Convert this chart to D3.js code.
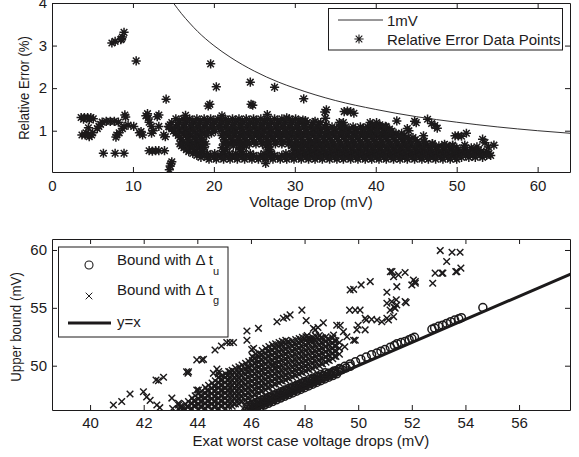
<!DOCTYPE html>
<html><head><meta charset="utf-8">
<script src="https://cdn.jsdelivr.net/npm/d3@7"></script>
<style>
body{margin:0;background:#fff}
text{font-family:"Liberation Sans",Arial,Helvetica,sans-serif;fill:#1c1a1b}
</style>
</head><body>
<svg id="c" width="579" height="457"></svg>
<script>
// ---------------- DATA ----------------
// Top panel: relative error (%) vs voltage drop (mV)
const xTicksTop = [0, 10, 20, 30, 40, 50, 60];
const yTicksTop = [1, 2, 3, 4];
const curve1mV = [[15,4],[16,3.75],[17,3.53],[18,3.33],[20,3.0],[22,2.73],[25,2.4],[28,2.14],[30,2.0],[35,1.71],[40,1.5],[45,1.33],[50,1.2],[55,1.09],[60,1.0],[64,0.94]];
const relErrScatter = [
 [7.4,3.06],[7.8,3.1],[8.5,3.14],[8.7,3.2],[8.9,3.31],[8.6,3.16],[10.4,2.64],[14.1,1.74],[19.6,2.57],[20.3,2.03],
 [24.5,2.14],[27.5,2.02],[31.1,1.75],[19.3,1.58],[19.5,1.62],[24.6,1.62],[24.8,1.6],[33.9,1.49],[33.7,1.44],[33.8,1.29],
 [36.1,1.45],[36.5,1.46],[36.9,1.45],[37.3,1.41],[42.6,1.23],[45.0,1.19],[44.8,1.22],[46.4,1.27],[46.9,1.17],[47.3,1.12],
 [47.6,1.06],[44.1,1.0],[43.9,1.05],[45.9,0.88],[43.7,0.82],[49.8,0.88],[50.2,0.88],[50.6,0.87],[51.2,0.94],[53.2,0.8],
 [53.5,0.72],[54.6,0.66],[53.9,0.62],[38.5,1.06],[40.2,0.98],[41.2,1.1],[41.8,0.98],[43.1,0.86],[26.6,1.38],[29.0,1.3],
 [31.0,1.25],[32.5,1.22],[46.0,0.75],[47.0,0.7],[48.5,0.68],[49.5,0.66],[51.0,0.66],[52.5,0.62],[26.4,0.23],[14.7,0.23],
 [14.6,0.17],[14.5,0.08],[14.8,0.27],[21.0,1.35],[16.5,1.36],
 [3.6,1.31],[4.0,1.31],[4.4,1.31],[4.8,1.31],[5.1,1.28],[3.9,1.27],[4.6,1.26],
 [3.7,0.9],[4.1,0.9],[4.5,0.9],[4.9,0.9],[4.2,0.95],[4.6,0.86],[5.0,0.95],
 [4.5,1.07],[5.6,1.05],[5.8,1.1],[6.2,1.2],[6.7,1.22],[7.2,1.22],[7.7,1.22],[6.0,1.15],[8.2,1.2],
 [8.0,0.9],[8.3,0.95],[7.9,0.85],[9.0,1.37],[9.1,1.32],[8.9,1.1],[9.4,1.13],[8.7,1.05],[10.1,1.1],
 [10.8,0.95],[11.2,0.9],[11.0,0.98],[11.6,1.35],[11.9,1.3],[12.0,1.2],[12.3,1.1],[12.5,1.0],[12.3,0.94],[11.8,1.4],
 [13.2,1.37],[13.0,1.33],[13.2,1.1],[14.4,1.1],[12.0,0.53],[12.4,0.52],[12.8,0.53],[13.2,0.53],[13.9,0.53],
 [14.0,0.86],[13.8,0.9],[6.35,0.47],[7.8,0.47],[8.9,0.47]
];
// dense band of points, one row per error level: [error %, voltage drops]
const relErrBandRows = [
 [1.28,[15.3,16.2,17.0,17.9,18.8,19.6,20.5,21.4,22.3,23.1,24.0,24.9,25.8,26.6,27.5,28.4,29.3,30.1]],
 [1.235,[15.7,16.6,17.4,18.3,19.2,20.0,20.9,21.8,22.7,23.5,24.4,25.3,26.2,27.0,27.9,28.8,29.7,30.5,31.3]],
 [1.19,[14.8,15.7,16.6,17.5,18.3,19.2,20.1,21.0,21.8,22.7,23.6,24.5,25.3,26.2,27.1,28.0,28.8,29.7,30.6,31.5,32.3,33.2,35.5,36.0,39.3,40.1]],
 [1.14,[14.6,15.5,16.4,17.3,18.1,19.0,19.9,20.8,21.6,22.5,23.4,24.3,25.1,26.0,26.9,27.8,28.6,29.5,30.4,31.3,32.1,33.0,33.9,35.8,39.6,40.5]],
 [1.09,[14.5,15.3,16.2,17.1,18.0,18.8,19.7,20.6,21.5,22.3,23.2,24.1,25.0,25.8,26.7,27.6,28.5,29.3,30.2,31.1,32.0,32.8,33.7,34.6,35.5,36.3,37.2,38.1,39.0,39.8,40.7,41.3]],
 [1.04,[14.8,15.7,16.5,17.4,18.3,19.2,20.0,20.9,21.8,22.7,23.5,24.4,25.3,26.2,27.0,27.9,28.8,29.7,30.5,31.4,32.3,33.2,34.0,34.9,35.8,36.7,37.5,38.4,39.3,40.2,41.0,41.7]],
 [0.99,[15.0,15.8,16.7,17.6,18.5,19.3,20.2,21.1,22.0,22.8,23.7,24.6,25.5,26.3,27.2,28.1,29.0,29.8,30.7,31.6,32.5,33.3,34.2,35.1,36.0,36.8,37.7,38.6,39.5,40.3,41.2,42.0]],
 [0.94,[15.3,16.2,17.0,17.9,18.8,19.7,21.5,22.4,23.2,24.1,25.0,25.9,26.7,27.6,28.5,29.4,30.2,31.1,32.0,32.9,33.7,34.6,35.5,36.4,37.2,38.1,39.0,39.9,40.7,41.6,42.5,43.2]],
 [0.89,[15.6,16.5,17.3,18.2,19.1,21.0,21.8,22.6,23.5,24.4,25.3,26.1,27.0,27.9,28.8,29.6,30.5,31.4,32.3,33.1,34.0,34.9,35.8,36.6,37.5,38.4,39.3,40.1,41.0,41.9,42.8,43.5]],
 [0.84,[15.8,16.7,17.6,18.4,21.2,22.1,23.0,23.8,24.7,25.6,26.5,27.3,28.2,29.1,30.0,30.8,31.7,32.6,33.5,34.3,35.2,36.1,37.0,37.8,38.7,39.6,40.5,41.3,42.2,43.1,44.0,44.6]],
 [0.79,[16.0,16.9,17.8,18.6,21.3,22.2,23.1,23.9,24.8,25.7,26.6,27.4,28.3,29.2,30.1,30.9,31.8,32.7,33.6,34.4,35.3,36.2,37.1,37.9,38.8,39.7,40.6,41.4,42.3,43.2,44.1,44.9]],
 [0.74,[16.2,17.0,17.8,18.6,21.5,22.4,23.2,24.1,25.0,25.9,26.7,27.6,28.5,29.4,30.2,31.1,32.0,32.9,33.7,34.6,35.5,36.4,37.2,38.1,39.0,39.9,40.7,41.6,42.5,43.4,44.2,45.1,45.9]],
 [0.69,[15.8,16.6,17.4,18.2,19.0,21.2,22.0,22.8,23.6,24.4,25.2,26.0,26.8,27.6,28.4,29.2,30.0,30.8,31.6,32.4,33.2,34.0,34.8,35.7,36.6,37.4,38.3,39.2,40.1,40.9,41.8,42.7,43.6,44.4,45.3,46.2,47.0]],
 [0.645,[16.0,16.8,17.6,18.5,21.6,22.4,23.2,24.0,26.4,29.6,30.4,31.2,32.1,33.0,33.8,34.7,35.6,36.5,37.3,38.2,39.1,40.0,40.8,41.7,42.6,43.5,44.3,45.2,46.1,47.0,47.8,48.7,49.5]],
 [0.60,[16.3,17.1,18.0,18.8,21.0,23.6,26.8,29.9,30.8,31.6,32.5,33.4,34.3,35.1,36.0,36.9,37.8,38.6,39.5,40.4,41.3,42.1,43.0,43.9,44.8,45.6,46.5,47.4,48.3,49.1,50.0,50.9,51.8]],
 [0.555,[16.6,17.5,18.4,21.5,23.2,26.9,30.0,30.9,31.8,32.6,33.5,34.4,35.3,36.1,37.0,37.9,38.8,39.6,40.5,41.4,42.3,43.1,44.0,44.9,45.8,46.6,47.5,48.4,49.3,50.1,51.0,51.9,52.7]],
 [0.51,[16.9,17.8,18.7,21.2,23.4,26.8,30.3,31.2,32.1,32.9,33.8,34.7,35.6,36.4,37.3,38.2,39.1,39.9,40.8,41.7,42.6,43.4,44.3,45.2,46.1,46.9,47.8,48.7,49.6,50.4,51.3,52.2,53.0,53.7]],
 [0.465,[17.4,18.3,19.2,20.1,21.0,21.9,22.7,23.6,24.5,26.2,27.1,28.9,29.7,30.6,31.5,32.4,33.2,34.1,35.0,35.9,36.7,37.6,38.5,39.4,40.2,41.1,42.0,42.9,43.7,44.6,45.5,46.4,47.2,48.1,49.0,49.9,50.7,51.6,52.5,53.3,54.0]],
 [0.42,[17.9,18.8,19.6,20.5,21.4,22.3,23.1,24.0,24.9,25.8,26.6,27.5,28.4,29.3,30.1,31.0,31.9,32.8,33.6,34.5,35.4,36.3,37.1,38.0,38.9,39.8,40.6,41.5,42.4,43.3,44.1,45.0,45.9,46.8,47.6,48.5,49.4,50.3,51.1,52.0,52.9,53.7,54.2]],
 [0.375,[18.4,19.2,20.0,20.9,21.8,22.6,23.5,24.4,25.3,26.1,27.0,27.9,28.8,29.6,30.5,31.4,32.3,33.1,34.0,34.9,35.8,36.6,37.5,38.4,39.3,40.1,41.0,41.9,42.8,43.6,44.5,45.4,46.3,47.1,48.0,48.9,49.8,50.6,51.5,52.3,53.2]],
 [0.33,[19.4,20.3,21.2,22.0,22.9,23.8,24.7,25.5,26.4,27.3,28.2,29.0,29.9,30.8,31.7,32.5,33.4,34.3,35.2,36.0,36.9,37.8,38.7,39.5,40.4,41.3,42.2,43.0,43.9,44.8,45.7,46.5,47.4,48.3,49.2,50.0]]
];

// Bottom panel: upper bound (mV) vs exact worst case voltage drop (mV)
const xTicksBottom = [40, 42, 44, 46, 48, 50, 52, 54, 56];
const yTicksBottom = [50, 55, 60];
const boundU = [
 [45.8,46.05],[45.95,46.2],[46.1,46.35],[46.25,46.5],[46.4,46.65],[46.55,46.8],[46.7,46.95],[46.85,47.1],[47.0,47.25],
 [47.15,47.4],[47.3,47.55],[47.45,47.7],[47.6,47.85],[47.75,48.0],[47.9,48.15],[48.05,48.3],[48.2,48.45],[48.35,48.6],
 [48.5,48.75],[48.65,48.9],[48.8,49.05],[48.95,49.2],[49.1,49.35],[49.25,49.5],[49.4,49.65],[49.55,49.8],[49.7,49.95],
 [45.85,46.4],[46.0,46.55],[46.15,46.7],[46.3,46.85],[46.45,47.0],[46.6,47.15],[46.75,47.3],[46.9,47.45],[47.05,47.6],
 [47.2,47.75],[47.35,47.9],[47.5,48.05],[47.65,48.2],[47.8,48.35],[47.95,48.5],[48.1,48.6],[48.3,48.8],[48.5,49.0],
 [48.7,49.15],[48.9,49.35],[49.1,49.55],[49.3,49.75],[49.5,49.95],[49.7,50.15],[49.9,50.35],
 [45.88,46.26],[46.03,46.41],[46.18,46.56],[46.33,46.71],[46.48,46.86],[46.63,47.01],[46.78,47.16],[46.93,47.31],
 [47.08,47.46],[47.23,47.61],[47.38,47.76],[47.53,47.91],[47.68,48.06],[47.83,48.21],[47.98,48.36],[48.13,48.51],
 [48.28,48.66],[48.43,48.81],[48.58,48.96],[48.73,49.11],[48.88,49.26],[49.03,49.41],[49.18,49.56],[49.33,49.71],
 [45.9,46.0],[46.05,46.15],[46.2,46.3],[46.35,46.45],[46.5,46.6],[46.65,46.75],[46.8,46.9],[46.95,47.05],[47.1,47.2],
 [47.25,47.35],[47.4,47.5],[47.55,47.65],[47.7,47.8],[47.85,47.95],[48.0,48.1],[48.15,48.25],[48.3,48.4],[48.45,48.55],
 [48.6,48.7],[48.75,48.85],[48.9,49.0],[49.05,49.15],[49.2,49.3],
 [45.92,46.54],[46.07,46.69],[46.22,46.84],[46.37,46.99],[46.52,47.14],[46.67,47.29],[46.82,47.44],[46.97,47.59],
 [47.12,47.74],[47.27,47.89],[47.42,48.04],[47.57,48.19],[47.72,48.34],[47.87,48.49],[48.02,48.64],[48.17,48.79],
 [48.32,48.94],[48.47,49.09],[48.62,49.24],[48.77,49.39],
 [50.1,50.55],[50.3,50.75],[50.5,50.95],[50.7,51.1],[50.85,51.25],[51.0,51.4],[51.2,51.6],[51.35,51.75],[51.45,51.9],
 [51.6,52.0],[51.75,52.1],[51.9,52.25],[52.0,52.35],[52.1,52.45],[52.75,53.15],[52.85,53.25],[53.0,53.4],[53.15,53.5],
 [53.3,53.65],[53.45,53.8],[53.6,53.95],[53.75,54.05],[53.85,54.15],[54.65,55.02]
];
// dense band of Delta t_g bounds, one column per exact drop: [exact drop, bounds]
const boundGCols = [
 [43.3,[46.25,46.6]],[43.55,[46.25,46.7]],[43.8,[46.3,46.75,47.2]],[44.05,[46.25,46.7,47.15,47.6]],
 [44.3,[46.3,46.75,47.2,47.65,48.1]],[44.55,[46.25,46.7,47.15,47.6,48.05,48.5]],
 [44.8,[46.3,46.75,47.2,47.65,48.1,48.55,49.0]],[45.05,[46.3,46.75,47.2,47.65,48.1,48.55,49.0,49.3]],
 [45.3,[46.5,46.95,47.4,47.85,48.3,48.75,49.2,49.6]],[45.55,[46.7,47.15,47.6,48.05,48.5,48.95,49.4,49.9]],
 [45.8,[47.0,47.45,47.9,48.35,48.8,49.25,49.7,50.2]],[46.05,[47.3,47.75,48.2,48.65,49.1,49.55,50.0,50.45,50.8]],
 [46.3,[47.6,48.05,48.5,48.95,49.4,49.85,50.3,50.75,51.1]],[46.55,[47.9,48.35,48.8,49.25,49.7,50.15,50.6,51.05,51.5]],
 [46.8,[48.2,48.65,49.1,49.55,50.0,50.45,50.9,51.35,51.8]],[47.05,[48.5,48.95,49.4,49.85,50.3,50.75,51.2,51.65,52.0]],
 [47.3,[48.75,49.2,49.65,50.1,50.55,51.0,51.45,51.9,52.2]],[47.55,[49.0,49.45,49.9,50.35,50.8,51.25,51.7,52.15]],
 [47.8,[49.25,49.7,50.15,50.6,51.05,51.5,51.95,52.35]],[48.05,[49.5,49.95,50.4,50.85,51.3,51.75,52.2,52.5]],
 [48.3,[49.75,50.2,50.65,51.1,51.55,52.0,52.45]],[48.55,[50.0,50.45,50.9,51.35,51.8,52.25,52.6]],
 [48.8,[50.3,50.75,51.2,51.65,52.1,52.5]],[49.05,[50.6,51.05,51.5,51.95,52.4]],[49.3,[51.0,51.5,52.0]],
 [43.42,[46.2,46.45]],[43.67,[46.45,46.9]],[43.92,[46.5,46.95,47.4]],[44.17,[46.45,46.9,47.35,47.8]],
 [44.42,[46.5,46.95,47.4,47.85,48.3]],[44.67,[46.45,46.9,47.35,47.8,48.25,48.7]],
 [44.92,[46.5,46.95,47.4,47.85,48.3,48.75,49.15]],[45.17,[46.5,46.95,47.4,47.85,48.3,48.75,49.2,49.5]],
 [45.42,[46.7,47.15,47.6,48.05,48.5,48.95,49.4,49.8]],[45.67,[46.9,47.35,47.8,48.25,48.7,49.15,49.6,50.05]],
 [45.92,[47.2,47.65,48.1,48.55,49.0,49.45,49.9,50.35]],[46.17,[47.5,47.95,48.4,48.85,49.3,49.75,50.2,50.65,51.0]],
 [46.42,[47.8,48.25,48.7,49.15,49.6,50.05,50.5,50.95,51.3]],[46.67,[48.1,48.55,49.0,49.45,49.9,50.35,50.8,51.25,51.65]],
 [46.92,[48.4,48.85,49.3,49.75,50.2,50.65,51.1,51.55,51.9]],[47.17,[48.65,49.1,49.55,50.0,50.45,50.9,51.35,51.8,52.1]],
 [47.42,[48.9,49.35,49.8,50.25,50.7,51.15,51.6,52.05]],[47.67,[49.15,49.6,50.05,50.5,50.95,51.4,51.85,52.25]],
 [47.92,[49.4,49.85,50.3,50.75,51.2,51.65,52.1,52.45]],[48.17,[49.65,50.1,50.55,51.0,51.45,51.9,52.35]],
 [48.42,[49.9,50.35,50.8,51.25,51.7,52.15,52.55]],[48.67,[50.15,50.6,51.05,51.5,51.95,52.4]],
 [48.92,[50.45,50.9,51.35,51.8,52.25]],[49.17,[50.8,51.25,51.7,52.15]],
 [43.36,[46.47]],[43.61,[46.47]],[43.86,[46.52,46.97]],[44.11,[46.47,46.92,47.37]],
 [44.36,[46.52,46.97,47.42,47.87]],[44.61,[46.47,46.92,47.37,47.82,48.27]],
 [44.86,[46.52,46.97,47.42,47.87,48.32,48.77]],[45.11,[46.52,46.97,47.42,47.87,48.32,48.77,49.15]],
 [45.36,[46.72,47.17,47.62,48.07,48.52,48.97,49.42]],[45.61,[46.92,47.37,47.82,48.27,48.72,49.17,49.62]],
 [45.86,[47.22,47.67,48.12,48.57,49.02,49.47,49.92]],[46.11,[47.52,47.97,48.42,48.87,49.32,49.77,50.22,50.62]],
 [46.36,[47.82,48.27,48.72,49.17,49.62,50.07,50.52,50.92]],[46.61,[48.12,48.57,49.02,49.47,49.92,50.37,50.82,51.27]],
 [46.86,[48.42,48.87,49.32,49.77,50.22,50.67,51.12,51.57]],[47.11,[48.72,49.17,49.62,50.07,50.52,50.97,51.42,51.82]],
 [47.36,[48.97,49.42,49.87,50.32,50.77,51.22,51.67,52.05]],[47.61,[49.22,49.67,50.12,50.57,51.02,51.47,51.92]],
 [47.86,[49.47,49.92,50.37,50.82,51.27,51.72,52.15]],[48.11,[49.72,50.17,50.62,51.07,51.52,51.97,52.35]],
 [48.36,[49.97,50.42,50.87,51.32,51.77,52.22]],[48.61,[50.22,50.67,51.12,51.57,52.02,52.42]],
 [48.86,[50.52,50.97,51.42,51.87,52.3]],[49.11,[50.82,51.27,51.72,52.17]]
];
const boundGScatter = [
 [40.87,46.6],[41.18,46.9],[41.49,47.55],[41.99,47.75],[42.11,47.3],[42.24,47.0],[42.49,46.6],[42.6,46.37],[42.46,48.76],
 [42.55,48.7],[42.74,49.0],[43.05,47.2],[43.08,46.3],[43.3,46.75],[43.67,49.48],[43.65,49.35],[43.98,50.5],[44.23,50.55],
 [44.04,47.9],[44.6,49.34],[44.73,49.7],[44.79,49.28],[44.66,51.36],[44.9,51.7],[45.1,52.0],[45.22,51.99],[45.35,52.0],
 [45.85,52.2],[45.85,53.0],[46.03,51.4],[46.1,51.5],[46.28,53.23],[46.97,53.8],[47.21,54.1],[47.34,54.2],[47.46,54.39],
 [47.9,54.8],[48.06,53.9],[48.33,53.23],[48.5,53.3],[48.27,52.2],[48.2,52.3],[48.4,53.1],[48.7,53.7],[49.08,52.65],
 [49.2,53.5],[49.33,53.5],[49.45,52.94],[49.5,51.64],[49.58,52.5],[49.83,52.2],[49.89,52.2],[49.95,53.1],[50.0,53.5],
 [50.26,53.1],[50.3,53.95],[50.5,54.0],[50.26,54.1],[49.7,56.55],[49.83,56.6],[50.11,56.98],[50.45,57.27],[49.68,54.8],
 [49.89,54.8],[50.07,54.8],[50.7,53.95],[50.88,53.8],[51.13,53.95],[51.32,54.24],[51.07,54.1],[51.07,55.4],[51.25,55.54],
 [51.44,55.25],[51.19,54.8],[51.38,54.97],[51.34,55.05],[51.42,55.7],[51.79,55.45],[51.75,55.54],[51.07,56.35],[51.44,56.83],
 [51.26,58.13],[51.32,57.7],[51.2,58.13],[51.5,57.85],[51.75,58.05],[52.0,56.98],[52.13,57.27],[52.06,57.4],[52.13,57.13],
 [52.78,57.13],[52.87,58.0],[53.12,58.0],[53.16,58.0],[53.3,59.0],[53.06,59.95],[53.5,59.8],[53.8,59.8],[53.68,58.13],
 [53.83,58.43],[53.64,58.13],[44.17,50.5],[44.8,49.5],[45.22,49.48],[45.9,49.78],[43.98,47.9],[43.6,49.48],[45.04,48.04],
 [46.84,50.06],[48.1,52.6]
];
const lineYX = [[46, 46], [58, 58]];

// ---------------- DRAWING ----------------
const ink = '#1c1a1b';
const svg = d3.select('#c');
const fontSize = 15;

const asteriskPath = 'M-4.6,0H4.6M0,-4.6V4.6M-3.3,-3.3L3.3,3.3M-3.3,3.3L3.3,-3.3';
const crossPath = 'M-3.3,-3.3L3.3,3.3M-3.3,3.3L3.3,-3.3';

function frame(g, x, y, xTicks, yTicks, fmt, xPad) {
  const [x0, x1] = x.range(), [y0, y1] = y.range();
  const style = sel => {
    sel.select('.domain').attr('stroke', ink).attr('stroke-width', 1).attr('fill', 'none');
    sel.selectAll('.tick line').attr('stroke', ink).attr('stroke-width', 1);
    sel.selectAll('.tick text').attr('font-size', fontSize).attr('fill', ink)
       .style('font-family', '"Liberation Sans",Arial,sans-serif');
  };
  g.append('g').attr('transform', `translate(0,${y0})`)
    .call(d3.axisBottom(x).tickValues(xTicks).tickSizeInner(-5).tickSizeOuter(0).tickPadding(xPad).tickFormat(fmt))
    .call(style);
  g.append('g').attr('transform', `translate(0,${y1})`)
    .call(d3.axisTop(x).tickValues(xTicks).tickSizeInner(-5).tickSizeOuter(0).tickFormat(''))
    .call(style);
  g.append('g').attr('transform', `translate(${x0},0)`)
    .call(d3.axisLeft(y).tickValues(yTicks).tickSizeInner(-5).tickSizeOuter(0).tickPadding(5).tickFormat(fmt))
    .call(style);
  g.append('g').attr('transform', `translate(${x1},0)`)
    .call(d3.axisRight(y).tickValues(yTicks).tickSizeInner(-5).tickSizeOuter(0).tickFormat(''))
    .call(style);
}

function clip(id, x, y) {
  const [x0, x1] = x.range(), [y0, y1] = y.range();
  svg.append('clipPath').attr('id', id).append('rect')
    .attr('x', x0).attr('y', y1).attr('width', x1 - x0).attr('height', y0 - y1);
}

// ---- Top panel ----
const xT = d3.scaleLinear().domain([0, 64]).range([52, 570]);
const yT = d3.scaleLinear().domain([0.03, 4]).range([172, 3]);
clip('clipTop', xT, yT);
const gT = svg.append('g');
const plotT = gT.append('g').attr('clip-path', 'url(#clipTop)');

const bandPts = relErrBandRows.flatMap(([e, xs]) => xs.map(v => [v, e]));
const allErr = bandPts.concat(relErrScatter);
plotT.append('g').selectAll('path').data(allErr).join('path')
  .attr('d', asteriskPath)
  .attr('transform', d => `translate(${xT(d[0])},${yT(d[1])})`)
  .attr('fill', 'none').attr('stroke', ink).attr('stroke-width', 1.5);

plotT.append('path').datum(curve1mV)
  .attr('d', d3.line().x(d => xT(d[0])).y(d => yT(d[1])).curve(d3.curveMonotoneX))
  .attr('fill', 'none').attr('stroke', ink).attr('stroke-width', 0.9);

frame(gT, xT, yT, xTicksTop, yTicksTop, d3.format('d'), 8.5);

svg.append('text').attr('x', 311).attr('y', 207).attr('text-anchor', 'middle')
  .attr('font-size', fontSize).text('Voltage Drop (mV)');
svg.append('text').attr('transform', 'translate(29,88) rotate(-90) scale(0.87,1)')
  .attr('text-anchor', 'middle').attr('font-size', fontSize).text('Relative Error (%)');

// legend top
const lgT = svg.append('g');
lgT.append('rect').attr('x', 328.5).attr('y', 8.5).attr('width', 234).attr('height', 41.5)
  .attr('fill', '#fff').attr('stroke', ink).attr('stroke-width', 1);
lgT.append('line').attr('x1', 338).attr('x2', 383).attr('y1', 20).attr('y2', 20)
  .attr('stroke', ink).attr('stroke-width', 0.9);
lgT.append('text').attr('x', 387).attr('y', 26).attr('font-size', fontSize).text('1mV');
lgT.append('path').attr('d', asteriskPath).attr('transform', 'translate(359,39)')
  .attr('fill', 'none').attr('stroke', ink).attr('stroke-width', 1.1);
lgT.append('text').attr('x', 387).attr('y', 45).attr('font-size', fontSize).text('Relative Error Data Points');

// ---- Bottom panel ----
const xB = d3.scaleLinear().domain([38.58, 57.9]).range([52, 570]);
const yB = d3.scaleLinear().domain([46.17, 60.95]).range([410, 239]);
clip('clipBot', xB, yB);
const gB = svg.append('g');
const plotB = gB.append('g').attr('clip-path', 'url(#clipBot)');

plotB.append('g').selectAll('circle').data(boundU).join('circle')
  .attr('cx', d => xB(d[0])).attr('cy', d => yB(d[1])).attr('r', 4)
  .attr('fill', 'none').attr('stroke', ink).attr('stroke-width', 1.5);

const gPts = boundGCols.flatMap(([v, ys]) => ys.map(u => [v, u])).concat(boundGScatter);
plotB.append('g').selectAll('path').data(gPts).join('path')
  .attr('d', crossPath)
  .attr('transform', d => `translate(${xB(d[0])},${yB(d[1])})`)
  .attr('fill', 'none').attr('stroke', ink).attr('stroke-width', 1.45);

plotB.append('path').datum(lineYX)
  .attr('d', d3.line().x(d => xB(d[0])).y(d => yB(d[1])))
  .attr('stroke', ink).attr('stroke-width', 3).attr('fill', 'none');

frame(gB, xB, yB, xTicksBottom, yTicksBottom, d3.format('d'), 7.5);

svg.append('text').attr('x', 311).attr('y', 446).attr('text-anchor', 'middle')
  .attr('font-size', fontSize).text('Exat worst case voltage drops (mV)');
svg.append('text').attr('transform', 'translate(21,327) rotate(-90) scale(0.89,1)')
  .attr('text-anchor', 'middle').attr('font-size', fontSize).text('Upper bound (mV)');

// legend bottom
const lgB = svg.append('g');
lgB.append('rect').attr('x', 58.5).attr('y', 247).attr('width', 169.5).attr('height', 90)
  .attr('fill', '#fff').attr('stroke', ink).attr('stroke-width', 1);
lgB.append('circle').attr('cx', 89).attr('cy', 265).attr('r', 4)
  .attr('fill', 'none').attr('stroke', ink).attr('stroke-width', 1.1);
const t1 = lgB.append('text').attr('x', 117).attr('y', 265).attr('font-size', fontSize);
t1.append('tspan').text('Bound with \u0394 t');
t1.append('tspan').attr('dy', 10).attr('font-size', 11).text('u');
lgB.append('path').attr('d', crossPath).attr('transform', 'translate(89,296)')
  .attr('fill', 'none').attr('stroke', ink).attr('stroke-width', 1);
const t2 = lgB.append('text').attr('x', 117).attr('y', 295).attr('font-size', fontSize);
t2.append('tspan').text('Bound with \u0394 t');
t2.append('tspan').attr('dy', 9).attr('font-size', 11).text('g');
lgB.append('line').attr('x1', 68).attr('x2', 111).attr('y1', 323).attr('y2', 323)
  .attr('stroke', ink).attr('stroke-width', 3);
lgB.append('text').attr('x', 117).attr('y', 327).attr('font-size', fontSize).text('y=x');
</script>
</body></html>
